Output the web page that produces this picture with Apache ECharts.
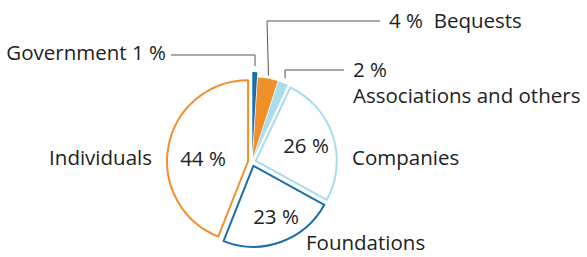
<!DOCTYPE html>
<html><head><meta charset="utf-8">
<script src="https://cdn.jsdelivr.net/npm/echarts@6/dist/echarts.min.js"></script>
<style>html,body{margin:0;padding:0;background:#fff}#c{width:587px;height:257px}</style>
</head><body><div id="c"></div>
<script>
// ---- data ----
const categories = ['Government', 'Bequests', 'Associations and others', 'Companies', 'Foundations', 'Individuals'];
const shares = [1, 4, 2, 26, 23, 44];
// ---- styling ----
const mainColors = ['#1a6fab', '#f0902b', '#a9dcec', '#a9dcec', '#1a6fab', '#f0902b'];
const filled = [true, true, true, false, false, false];
const nameTemplates = ['{n} {v} %', '{v} %  {n}', '{v} %\n{n}', '{n}', '{n}', '{n}'];
// label placement (pixels): [x, y, align, lineStartRadius, bendX, bendY, endX]
const nameSpots = [
  [166, 52, 'right', 96, 255, 55, 171],
  [389, 20, 'left', 88, 267, 21, 380],
  [353, 82, 'left', 90, 285, 70, 344],
  [352, 157, 'left'],
  [306, 242, 'left'],
  [152, 157, 'right']
];
const pctSpots = [null, null, null, [306, 145], [276, 216], [203, 158]];

const pieCenter = [252, 162];
const pieRadius = 81;
const explode = 4;
const govExplode = 9;

const font = 'Open Sans';
const textColor = '#222222';
const fontSize = 20.5;

const total = shares.reduce((a, b) => a + b, 0);
function midTheta(i) {
  let cum = 0;
  for (let k = 0; k < i; k++) cum += shares[k];
  return (cum + shares[i] / 2) / total * 2 * Math.PI;
}
function dirOf(i) { const t = midTheta(i); return [Math.sin(t), -Math.cos(t)]; }

const chart = echarts.init(document.getElementById('c'), null, {renderer: 'svg'});

const clear = 'rgba(0,0,0,0)';
const mainData = categories.map((c, i) => ({
  name: c, value: shares[i], selected: true,
  itemStyle: {
    color: i === 0 ? clear : (filled[i] ? mainColors[i] : '#ffffff'),
    borderColor: i === 0 ? clear : mainColors[i],
    borderWidth: filled[i] ? 0 : 2
  }
}));
const govData = categories.map((c, i) => ({
  name: c, value: shares[i], selected: true,
  itemStyle: {color: i === 0 ? mainColors[0] : clear, borderWidth: 0}
}));
const overlayData = categories.map((c, i) => ({
  name: c, value: shares[i],
  itemStyle: {color: clear, borderWidth: 0},
  label: nameTemplates[i].indexOf('\n') >= 0 ? {lineHeight: 26} : {}
}));

const common = {
  type: 'pie',
  center: pieCenter,
  radius: [0, pieRadius],
  startAngle: 90,
  clockwise: true,
  animation: false,
  avoidLabelOverlap: false,
  emphasis: {disabled: true, scale: false}
};

function shiftTo(rect, x, y, align) {
  const cx = align === 'right' ? rect.x + rect.width : align === 'center' ? rect.x + rect.width / 2 : rect.x;
  const cy = rect.y + rect.height / 2;
  return {dx: x - cx, dy: y - cy};
}

chart.setOption({
  animation: false,
  series: [
    Object.assign({}, common, {
      selectedMode: 'multiple',
      selectedOffset: govExplode,
      silent: true,
      data: govData,
      label: {show: false},
      labelLine: {show: false}
    }),
    Object.assign({}, common, {
      selectedMode: 'multiple',
      selectedOffset: explode,
      data: mainData,
      label: {
        show: true, position: 'inside',
        fontFamily: font, fontSize: fontSize, color: textColor,
        formatter: p => pctSpots[p.dataIndex] ? p.value + ' %' : ''
      },
      labelLine: {show: false},
      labelLayout: p => {
        const s = pctSpots[p.dataIndex];
        if (!s) return {};
        const d = dirOf(p.dataIndex);
        // label moves with its exploded slice, so take the offset back out
        return shiftTo(p.labelRect, s[0] - d[0] * explode, s[1] - d[1] * explode, 'center');
      }
    }),
    Object.assign({}, common, {
      silent: true,
      z: 3,
      data: overlayData,
      label: {
        show: true, position: 'outside', alignTo: 'none',
        fontFamily: font, fontSize: fontSize, color: textColor,
        lineHeight: 20,
        formatter: p => nameTemplates[p.dataIndex].replace('{n}', p.name).replace('{v}', p.value)
      },
      labelLine: {show: true, lineStyle: {color: '#555555', width: 1}},
      labelLayout: p => {
        const s = nameSpots[p.dataIndex];
        const out = shiftTo(p.labelRect, s[0], s[1], s[2]);
        if (s.length > 3) {
          const d = dirOf(p.dataIndex);
          const start = [pieCenter[0] + d[0] * s[3], pieCenter[1] + d[1] * s[3]];
          out.labelLinePoints = [start, [s[4], s[5]], [s[6], s[5]]];
        } else {
          out.labelLinePoints = [[0, 0], [0, 0], [0, 0]];
        }
        return out;
      }
    })
  ]
});
</script></body></html>
